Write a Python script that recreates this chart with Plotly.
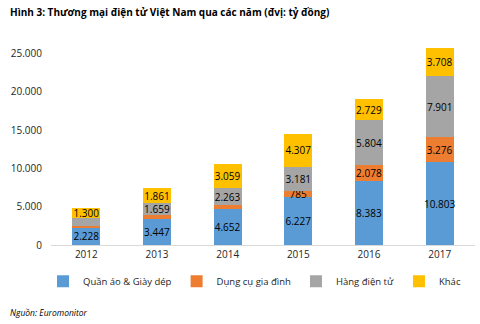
import plotly.graph_objects as go

years = ["2012", "2013", "2014", "2015", "2016", "2017"]
quan_ao = [2228, 3447, 4652, 6227, 8383, 10803]
dung_cu = [300, 420, 530, 785, 2078, 3276]
dien_tu = [1000, 1659, 2263, 3181, 5804, 7901]
khac = [1300, 1861, 3059, 4307, 2729, 3708]
show_label = {
    "dung_cu": [False, False, False, True, True, True],
    "dien_tu": [False, True, True, True, True, True],
}
y_ticks = [0, 5000, 10000, 15000, 20000, 25000]

def fmt(v):
    return f"{v:,}".replace(",", ".")

series = [
    ("Quần áo & Giày dép", quan_ao, "#5B9BD5", [True] * 6),
    ("Dụng cụ gia đình", dung_cu, "#ED7D31", show_label["dung_cu"]),
    ("Hàng điện tử", dien_tu, "#A5A5A5", show_label["dien_tu"]),
    ("Khác", khac, "#FFC000", [True] * 6),
]

fig = go.Figure()
for name, vals, col, show in series:
    fig.add_trace(go.Bar(
        x=years, y=vals, name=name,
        marker=dict(color=col, line=dict(width=0)),
        text=[fmt(v) if s else "" for v, s in zip(vals, show)],
        textposition="inside", insidetextanchor="middle",
        constraintext="none", textangle=0,
        textfont=dict(size=10, color="#000000", family="Open Sans"),
        hoverinfo="skip",
    ))

fig.update_layout(
    barmode="stack", bargap=0.6,
    width=480, height=324,
    margin=dict(l=51, r=5, t=38, b=79, autoexpand=False),
    paper_bgcolor="white", plot_bgcolor="white",
    font=dict(family="Open Sans", size=10, color="#262626"),
    separators=",.",
    showlegend=True,
    legend=dict(orientation="h", x=0.48, xanchor="center",
                y=-0.105, yanchor="top",
                font=dict(size=9.5, color="#262626"), itemwidth=30,
                traceorder="normal"),
    annotations=[
        dict(text="<b>Hình 3: Thương mại điện tử Việt Nam qua các năm (đvị: tỷ đồng)</b>",
             xref="paper", yref="paper", x=-0.101, y=1.126, xanchor="left", yanchor="middle",
             showarrow=False, font=dict(size=10, color="#000000")),
        dict(text="<i>Nguồn: Euromonitor</i>", xref="paper", yref="paper",
             x=-0.101, y=-0.324, xanchor="left", yanchor="middle",
             showarrow=False, font=dict(size=8.5, color="#000000")),
    ],
)
fig.update_xaxes(showline=True, linecolor="#D9D9D9", linewidth=1, ticks="",
                 tickfont=dict(size=10, color="#262626"))
fig.update_yaxes(range=[0, 27000], tickvals=y_ticks, tickformat=",d", showgrid=False,
                 zeroline=False, showline=False, ticks="", ticklabelstandoff=8,
                 tickfont=dict(size=10, color="#262626"))

fig.write_html("out.html")
